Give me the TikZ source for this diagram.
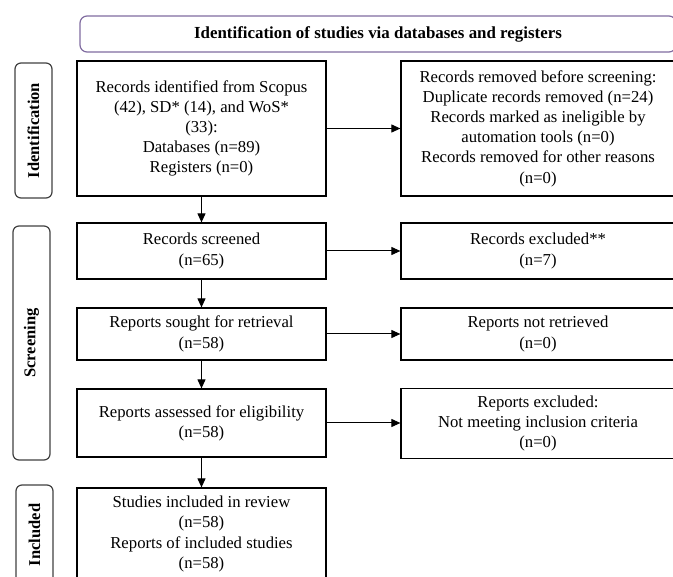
\documentclass[tikz,border=0pt]{standalone}
\usepackage{fontspec}
\setmainfont{Liberation Serif}
\usepackage{xcolor}
\usetikzlibrary{arrows.meta,positioning}
\definecolor{headline}{RGB}{128,108,160}
\tikzset{stage/.style={rectangle, draw=black, line width=1.2pt, fill=white, align=center, inner sep=2pt, font=\fontsize{16.7}{20.2}\selectfont},
	phase/.style={rectangle, rounded corners=6pt, draw=black!75, line width=1.2pt, rotate=90, minimum height=37pt, font=\bfseries\fontsize{16.5}{18}\selectfont},
	flow/.style={-{Triangle[length=9pt,width=8pt]}, line width=1pt}}

\begin{document}
\begin{tikzpicture}[x=1pt,y=-1pt]
		\clip (0,0) rectangle (673,577);
		% heading
		\node[rectangle, rounded corners=7pt, draw=headline, line width=1.2pt, minimum width=596pt, minimum height=36pt, font=\bfseries\fontsize{16.9}{18}\selectfont] (head) at (378,34) {Identification of studies via databases and registers};
		% phases
		\node[phase, minimum width=135pt] (ident) at (33.5,130.5) {Identification};
		\node[phase, minimum width=234pt] (screen) at (31.5,343) {Screening};
		\node[phase, minimum width=100pt] (incl) at (34.5,535) {Included};
		% left column
		\node[stage, minimum width=249pt, minimum height=135pt] (found) at (201.5,128.5) {Records identified from Scopus\\ (42), SD* (14), and WoS*\\ (33):\\ Databases (n=89)\\ Registers (n=0)};
		\node[stage, minimum width=249pt, minimum height=56pt] (screened) at (201.5,251) {Records screened\\ (n=65)};
		\node[stage, minimum width=249pt, minimum height=52pt] (sought) at (201.5,334) {Reports sought for retrieval\\ (n=58)};
		\node[stage, minimum width=249pt, minimum height=68pt] (assessed) at (201.5,423) {Reports assessed for eligibility\\ (n=58)};
		\node[stage, minimum width=249pt, minimum height=92pt] (included) at (201.5,534) {Studies included in review\\ (n=58)\\ Reports of included studies\\ (n=58)};
		% right column
		\node[stage, minimum width=274pt, minimum height=135pt] (removed) at (538,128.5) {Records removed before screening:\\ Duplicate records removed (n=24)\\ Records marked as ineligible by\\ automation tools (n=0)\\ Records removed for other reasons\\ (n=0)};
		\node[stage, minimum width=274pt, minimum height=56pt] (excluded) at (538,251) {Records excluded**\\ (n=7)};
		\node[stage, minimum width=274pt, minimum height=52pt] (notret) at (538,334) {Reports not retrieved\\ (n=0)};
		\node[stage, minimum width=274pt, minimum height=70pt] (noteli) at (538,423.5) {Reports excluded:\\ Not meeting inclusion criteria\\ (n=0)};
		% arrows
		\draw[flow] (found) -- (removed);
		\draw[flow] (screened) -- (excluded);
		\draw[flow] (sought) -- (notret);
		\draw[flow] (assessed.east) -- (assessed.east -| noteli.west);
		\draw[flow] (found) -- (screened);
		\draw[flow] (screened) -- (sought);
		\draw[flow] (sought) -- (assessed);
		\draw[flow] (assessed) -- (included);
\end{tikzpicture}
\end{document}
